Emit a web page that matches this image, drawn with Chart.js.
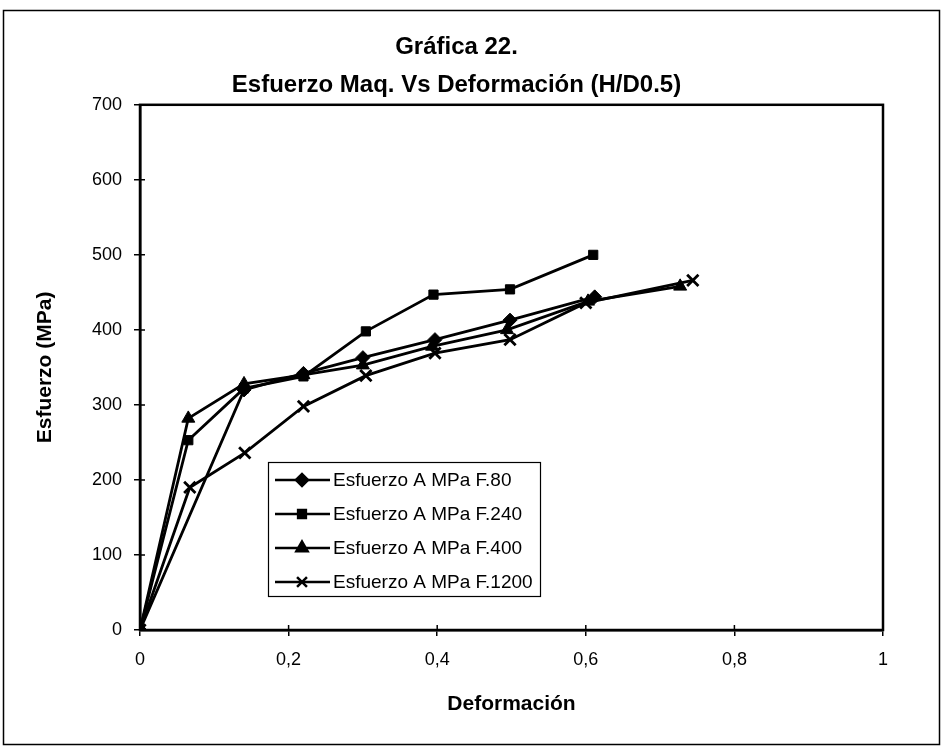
<!DOCTYPE html>
<html>
<head>
<meta charset="utf-8">
<script src="https://cdn.jsdelivr.net/npm/chart.js@4.4.1/dist/chart.umd.min.js"></script>
<style>
    body { margin: 0; background: #fff; }
    #wrap { width: 943px; height: 750px; position: relative; }
</style>
</head>
<body>
<div id="wrap"><canvas id="grafica-canvas"></canvas></div>
<script>
// Deformación (x) y esfuerzo en MPa (y)
var deformF80 = [0, 0.14, 0.22, 0.30, 0.397, 0.498, 0.612];
var esfuerzoF80 = [0, 320, 342, 363, 387, 413, 444];

var deformF240 = [0, 0.065, 0.14, 0.22, 0.304, 0.395, 0.498, 0.61];
var esfuerzoF240 = [0, 253, 322, 338, 398, 447, 454, 500];

var deformF400 = [0, 0.065, 0.14, 0.22, 0.30, 0.393, 0.494, 0.603, 0.727];
var esfuerzoF400 = [0, 282, 328, 340, 353, 378, 400, 438, 458];

var deformF1200 = [0, 0.067, 0.141, 0.22, 0.304, 0.397, 0.498, 0.60, 0.744];
var esfuerzoF1200 = [0, 190, 236, 298, 339, 369, 387, 436, 466];

var seriesLabels = ['Esfuerzo A MPa F.80', 'Esfuerzo A MPa F.240', 'Esfuerzo A MPa F.400', 'Esfuerzo A MPa F.1200'];
var titleLines = ['Gráfica 22.', 'Esfuerzo Maq. Vs Deformación (H/D0.5)'];

var FONT = '"Liberation Sans", Arial, sans-serif';

function pares(xs, ys) {
    return xs.map(function (x, i) { return {x: x, y: ys[i]}; });
}

function serie(label, xs, ys, style, radius) {
    return {
        label: label,
        data: pares(xs, ys),
        showLine: true,
        borderColor: '#000',
        backgroundColor: '#000',
        borderWidth: 2.8,
        tension: 0,
        pointStyle: style,
        pointRadius: radius,
        pointBorderWidth: style === 'crossRot' ? 2.8 : 1,
        pointBorderColor: '#000',
        pointBackgroundColor: '#000'
    };
}

// marco exterior, caja del área de trazado, marcas interiores y leyenda
var marcoPlugin = {
    id: 'marco',
    beforeDraw: function (chart) {
        var ctx = chart.ctx;
        ctx.save();
        ctx.fillStyle = '#fff';
        ctx.fillRect(0, 0, chart.width, chart.height);
        ctx.strokeStyle = '#000';
        ctx.lineWidth = 1.5;
        ctx.strokeRect(3.5, 10.5, 936, 734);
        ctx.restore();
    },
    afterDraw: function (chart) {
        var ctx = chart.ctx;
        var a = chart.chartArea;
        ctx.save();
        ctx.strokeStyle = '#000';
        ctx.lineWidth = 2.5;
        ctx.strokeRect(a.left, a.top, a.right - a.left, a.bottom - a.top);

        ctx.lineWidth = 1.5;
        ctx.beginPath();
        chart.scales.x.ticks.forEach(function (t) {
            var px = chart.scales.x.getPixelForValue(t.value);
            ctx.moveTo(px, a.bottom);
            ctx.lineTo(px, a.bottom - 5);
        });
        chart.scales.y.ticks.forEach(function (t) {
            var py = chart.scales.y.getPixelForValue(t.value);
            ctx.moveTo(a.left, py);
            ctx.lineTo(a.left + 5, py);
        });
        ctx.stroke();

        // leyenda dentro del área
        var box = {left: 268, top: 462, width: 272, height: 134, row: 34};
        ctx.lineWidth = 1.2;
        ctx.fillStyle = '#fff';
        ctx.fillRect(box.left, box.top, box.width, box.height);
        ctx.strokeRect(box.left + 0.5, box.top + 0.5, box.width, box.height);
        chart.data.datasets.forEach(function (ds, i) {
            var y = box.top + 18 + i * box.row;
            ctx.strokeStyle = '#000';
            ctx.lineWidth = 2.5;
            ctx.beginPath();
            ctx.moveTo(box.left + 7, y);
            ctx.lineTo(box.left + 62, y);
            ctx.stroke();
            ctx.fillStyle = '#000';
            Chart.helpers.drawPoint(ctx, {
                pointStyle: ds.pointStyle,
                radius: ds.pointRadius - 1,
                borderWidth: ds.pointBorderWidth,
                rotation: 0
            }, box.left + 34, y);
            ctx.font = '19px ' + FONT;
            ctx.textBaseline = 'middle';
            ctx.textAlign = 'left';
            ctx.fillText(ds.label, box.left + 65, y + 1);
        });
        ctx.restore();
    }
};

document.addEventListener('DOMContentLoaded', function () {
    var canvas = document.getElementById('grafica-canvas').getContext('2d');

    new Chart(canvas, {
        type: 'scatter',
        data: {
            datasets: [
                serie(seriesLabels[0], deformF80, esfuerzoF80, 'rectRot', 7),
                serie(seriesLabels[1], deformF240, esfuerzoF240, 'rect', 6.5),
                serie(seriesLabels[2], deformF400, esfuerzoF400, 'triangle', 7.5),
                serie(seriesLabels[3], deformF1200, esfuerzoF1200, 'crossRot', 8)
            ]
        },
        options: {
            responsive: true,
            maintainAspectRatio: false,
            animation: false,
            layout: {
                padding: {left: 30, right: 60, top: 0, bottom: 20}
            },
            plugins: {
                legend: {display: false},
                tooltip: {enabled: false},
                title: {
                    display: true,
                    text: titleLines,
                    color: '#000',
                    font: {family: FONT, size: 24, weight: 'bold', lineHeight: 1.6},
                    padding: {top: 28, bottom: 0}
                }
            },
            scales: {
                x: {
                    type: 'linear',
                    min: 0,
                    max: 1,
                    afterFit: function (scale) { scale.height = 100; },
                    ticks: {
                        stepSize: 0.2,
                        color: '#000',
                        padding: 13,
                        font: {family: FONT, size: 18},
                        callback: function (v) { return String(v).replace('.', ','); }
                    },
                    grid: {drawOnChartArea: false, tickLength: 6, color: '#000', lineWidth: 1.5},
                    border: {color: '#000', width: 2.5},
                    title: {
                        display: true,
                        text: 'Deformación',
                        color: '#000',
                        font: {family: FONT, size: 21, weight: 'bold'},
                        padding: {top: 0, bottom: 13}
                    }
                },
                y: {
                    min: 0,
                    max: 700,
                    afterFit: function (scale) { scale.width = 110; },
                    ticks: {
                        stepSize: 100,
                        color: '#000',
                        padding: 12,
                        font: {family: FONT, size: 18}
                    },
                    grid: {drawOnChartArea: false, tickLength: 6, color: '#000', lineWidth: 1.5},
                    border: {color: '#000', width: 2.5},
                    title: {
                        display: true,
                        text: 'Esfuerzo (MPa)',
                        color: '#000',
                        font: {family: FONT, size: 21, weight: 'bold'},
                        padding: {top: 3, bottom: 0}
                    }
                }
            }
        },
        plugins: [marcoPlugin]
    });
});
</script>
</body>
</html>
